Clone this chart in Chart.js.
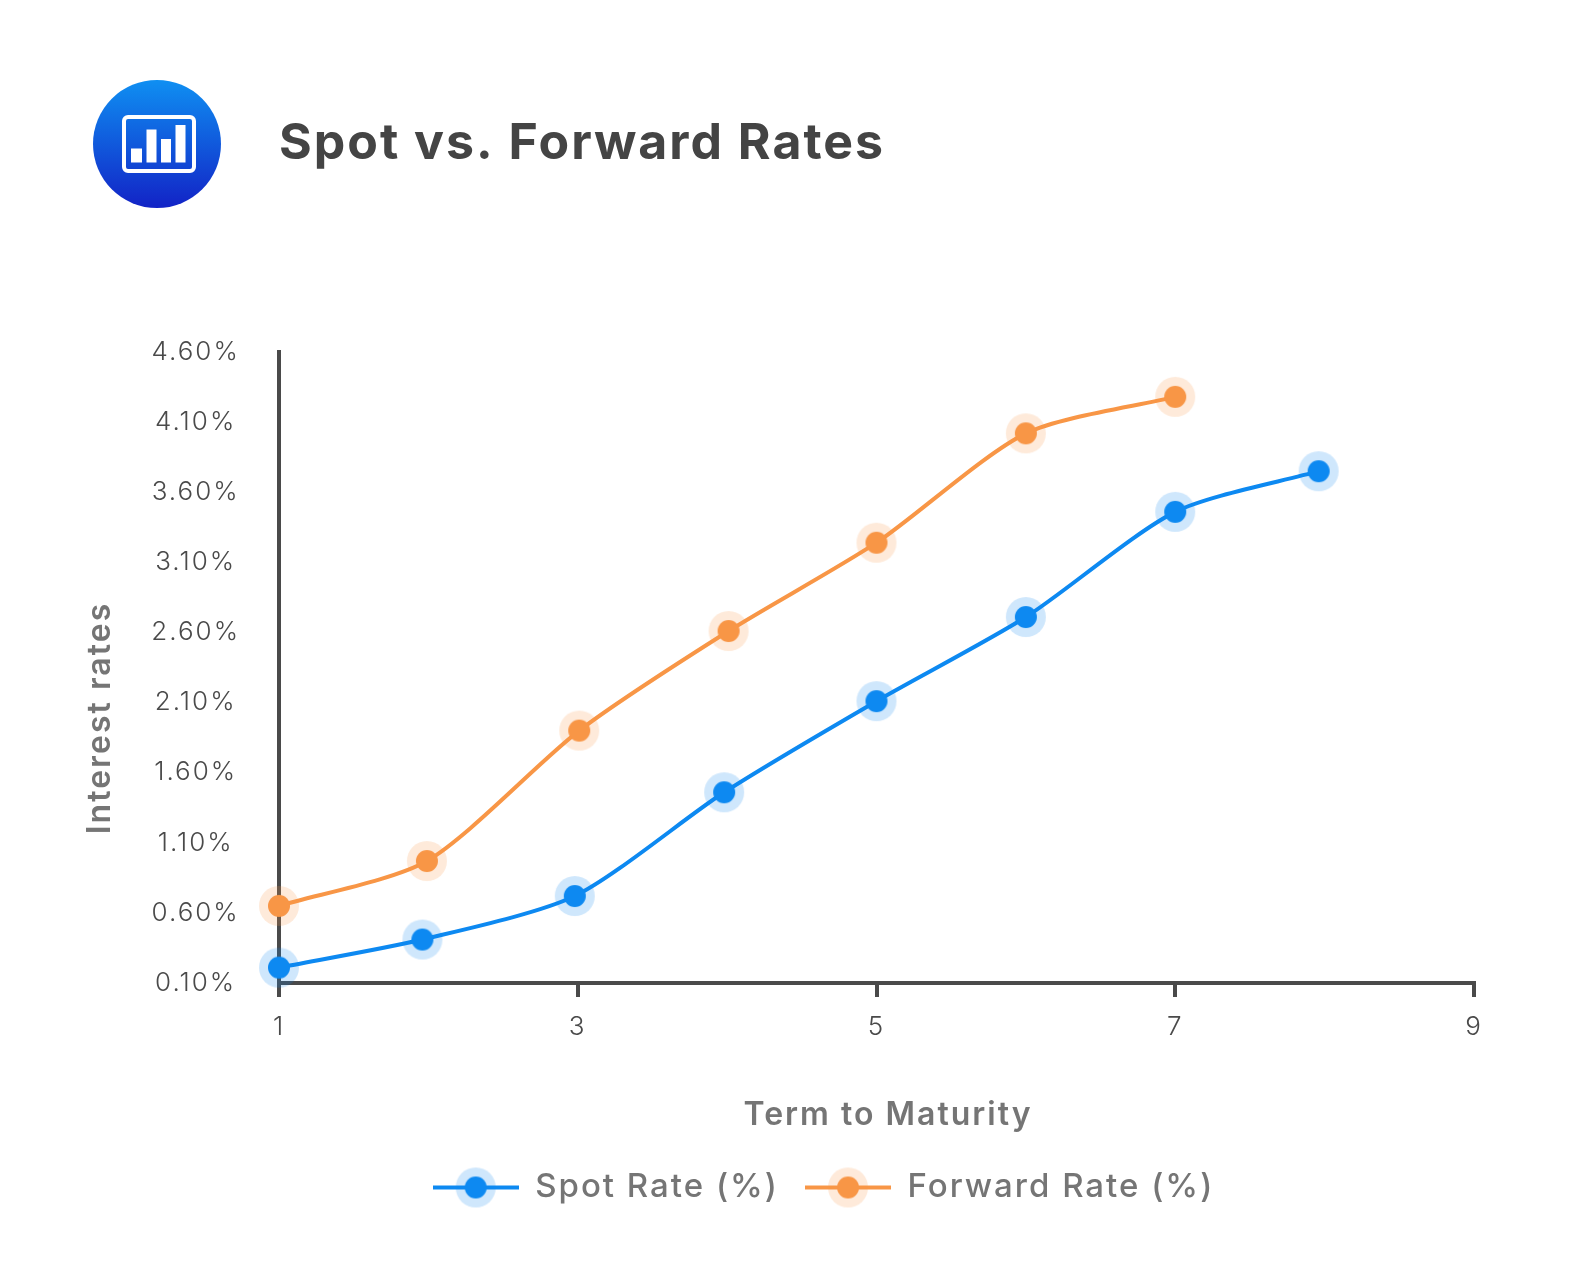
<!DOCTYPE html>
<html>
<head>
<meta charset="utf-8">
<title>Spot vs. Forward Rates</title>
<script src="https://cdn.jsdelivr.net/npm/chart.js@4"></script>
<style>
  html, body { margin: 0; background: #fff; }
  #wrap { position: relative; width: 1590px; height: 1276px; }
  #logo { position: absolute; left: 93px; top: 80px; width: 128px; height: 128px; }
  #chart { position: absolute; left: 0; top: 0; }
</style>
</head>
<body>
<div id="wrap">
  <canvas id="chart" width="1590" height="1276"></canvas>
  <svg id="logo" viewBox="0 0 128 128">
    <defs>
      <linearGradient id="logoFill" x1="0" y1="0" x2="0" y2="1">
        <stop offset="0" stop-color="#0f8ff2"/>
        <stop offset="1" stop-color="#1223c6"/>
      </linearGradient>
    </defs>
    <circle cx="64" cy="64" r="64" fill="url(#logoFill)"/>
    <rect x="31" y="37" width="70" height="54" rx="4" fill="none" stroke="#fff" stroke-width="4"/>
    <rect x="38" y="68.5" width="11" height="14" fill="#fff"/>
    <rect x="53.5" y="49.5" width="10" height="33" fill="#fff"/>
    <rect x="68" y="59" width="10" height="23.5" fill="#fff"/>
    <rect x="82.5" y="45" width="10" height="37.5" fill="#fff"/>
  </svg>
</div>
<script>
const spotTerms = [1, 1.96, 2.98, 3.98, 5, 6, 7, 7.96];
const spotRates = [0.21, 0.41, 0.72, 1.46, 2.11, 2.71, 3.46, 3.75];
const forwardTerms = [1, 1.99, 3.01, 4.01, 5, 6, 7];
const forwardRates = [0.65, 0.97, 1.9, 2.61, 3.24, 4.02, 4.28];
const xTickValues = [1, 3, 5, 7, 9];
const yTickValues = [0.1, 0.6, 1.1, 1.6, 2.1, 2.6, 3.1, 3.6, 4.1, 4.6];

const BLUE = "#0d89f1";
const ORANGE = "#f89646";
const AXIS = "#4a4a4a";
const MUTED = "#757575";
const FONT = "Inter";

const toPoints = (xs, ys) => xs.map((x, i) => ({ x: x, y: ys[i] }));

// dot with a pale ring, optionally with a line through it for the legend
const makeMarker = (color, withLine) => {
  const c = document.createElement("canvas");
  c.width = withLine ? 86 : 42;
  c.height = 42;
  const g = c.getContext("2d");
  const mid = c.width / 2;
  g.fillStyle = color;
  g.globalAlpha = 0.2;
  g.beginPath();
  g.arc(mid, 21, 20, 0, Math.PI * 2);
  g.fill();
  g.globalAlpha = 1;
  if (withLine) {
    g.fillRect(0, 19, c.width, 4);
  }
  g.beginPath();
  g.arc(mid, 21, 11, 0, Math.PI * 2);
  g.fill();
  return c;
};

// the original typeface runs wider than Inter
const wideText = {
  id: "wideText",
  beforeUpdate(chart) {
    chart.ctx.letterSpacing = "2px";
  },
  beforeDraw(chart) {
    chart.ctx.letterSpacing = "2px";
  },
};

// scale titles cannot be moved off centre, and these two sit off centre
const axisTitles = {
  id: "axisTitles",
  afterDraw(chart) {
    const ctx = chart.ctx;
    const drawTitle = (text, x, y, angle) => {
      ctx.save();
      ctx.translate(x, y);
      ctx.rotate(angle);
      ctx.font = `600 32px ${FONT}`;
      ctx.fillStyle = MUTED;
      ctx.textAlign = "center";
      ctx.textBaseline = "middle";
      ctx.fillText(text, 0, 0);
      ctx.restore();
    };
    drawTitle("Interest rates", 100, 718, -Math.PI / 2);
    drawTitle("Term to Maturity", 888, 1115, 0);
  },
};

const makeDataset = (label, xs, ys, color) => ({
  label: label,
  data: toPoints(xs, ys),
  borderColor: color,
  backgroundColor: color,
  borderWidth: 4,
  tension: 0.25,
  clip: false,
  pointRadius: 20,
  pointHoverRadius: 20,
  pointStyle: makeMarker(color, false),
  legendMarker: makeMarker(color, true),
});

new Chart(document.querySelector("#chart"), {
  type: "line",
  data: {
    datasets: [
      makeDataset("Spot Rate (%)", spotTerms, spotRates, BLUE),
      makeDataset("Forward Rate (%)", forwardTerms, forwardRates, ORANGE),
    ],
  },
  plugins: [wideText, axisTitles],
  options: {
    responsive: false,
    animation: false,
    layout: { padding: { left: 60, right: 3, top: 114, bottom: 62 } },
    plugins: {
      tooltip: { enabled: false },
      title: {
        display: true,
        text: "Spot vs. Forward Rates",
        align: "start",
        fullSize: false,
        color: "#444444",
        font: { family: FONT, size: 50, weight: "700" },
        padding: { top: 0, bottom: 178 },
      },
      legend: {
        position: "bottom",
        labels: {
          usePointStyle: true,
          pointStyleWidth: 86,
          color: MUTED,
          font: { family: FONT, size: 33, weight: "500" },
          padding: 26,
          generateLabels(chart) {
            return chart.data.datasets.map((d, i) => ({
              text: d.label,
              datasetIndex: i,
              pointStyle: d.legendMarker,
              fontColor: MUTED,
              lineWidth: 0,
            }));
          },
        },
      },
    },
    scales: {
      x: {
        type: "linear",
        min: 1,
        max: 9,
        afterFit: (s) => { s.height = 162; },
        afterBuildTicks: (s) => { s.ticks = xTickValues.map((v) => ({ value: v })); },
        border: { color: AXIS, width: 4 },
        grid: { drawOnChartArea: false, color: AXIS, tickLength: 14, lineWidth: 4 },
        ticks: {
          color: AXIS,
          padding: 15,
          font: { family: FONT, size: 26, weight: "300" },
          callback: (v) => String(v),
        },
      },
      y: {
        min: 0.1,
        max: 4.6,
        afterFit: (s) => { s.width = 219; },
        afterBuildTicks: (s) => { s.ticks = yTickValues.map((v) => ({ value: v })); },
        border: { color: AXIS, width: 4 },
        grid: { drawOnChartArea: false, drawTicks: false },
        ticks: {
          autoSkip: false,
          color: AXIS,
          crossAlign: "center",
          padding: 39,
          font: { family: FONT, size: 26, weight: "300" },
          callback: (v) => v.toFixed(2) + "%",
        },
      },
      // empty axis, only holds the margin right of the plot
      spacer: {
        position: "right",
        grid: { display: false },
        border: { display: false },
        ticks: { display: false },
        afterFit: (s) => { s.width = 113; },
      },
    },
  },
});
</script>
</body>
</html>
